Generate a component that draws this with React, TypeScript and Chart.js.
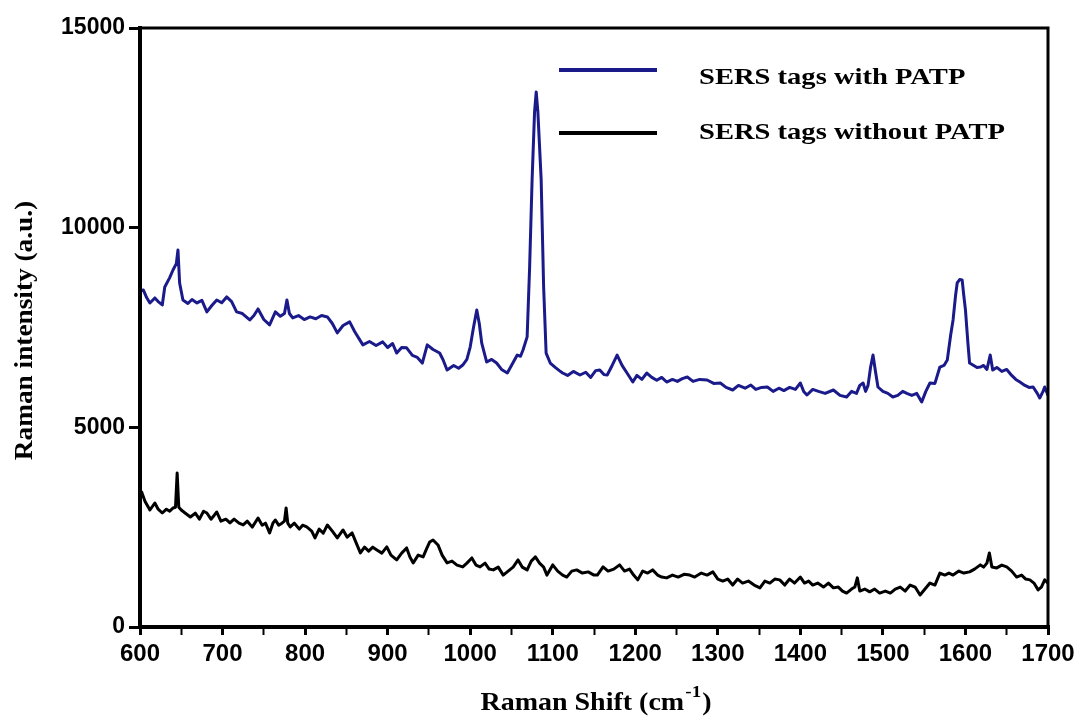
import React, { useEffect, useRef } from 'react';
import { Chart, registerables } from 'chart.js';

Chart.register(...registerables);

// Raman shift (cm-1), intensity (a.u.)
const withPATP: [number, number][] = [
  [600, 8400], [604, 8440], [608, 8250], [612, 8115], [618, 8240], [622, 8150], [627, 8065], [630, 8515],
  [636, 8750], [640, 8940], [644, 9100], [646, 9440], [648, 8615], [652, 8190], [658, 8100], [663, 8200],
  [669, 8115], [675, 8180], [681, 7890], [687, 8050], [693, 8190], [699, 8120], [705, 8265], [711, 8150],
  [717, 7890], [724, 7850], [733, 7690], [738, 7800], [743, 7965], [750, 7700], [757, 7565], [764, 7890],
  [770, 7780], [775, 7850], [778, 8190], [781, 7850], [785, 7740], [792, 7800], [799, 7700], [806, 7765],
  [813, 7720], [820, 7800], [827, 7765], [833, 7600], [839, 7365], [846, 7550], [854, 7640], [860, 7400],
  [870, 7065], [878, 7150], [886, 7050], [894, 7140], [900, 7000], [906, 7100], [911, 6860], [917, 7000],
  [923, 6990], [930, 6800], [936, 6750], [942, 6610], [948, 7065], [955, 6950], [963, 6860], [967, 6700],
  [972, 6435], [980, 6550], [986, 6480], [991, 6560], [996, 6700], [1000, 7010], [1004, 7500], [1008, 7940],
  [1011, 7600], [1014, 7110], [1020, 6635], [1026, 6700], [1032, 6610], [1038, 6450], [1045, 6360], [1050, 6550],
  [1057, 6810], [1061, 6780], [1064, 6935], [1069, 7265], [1072, 9000], [1075, 11195], [1078, 12900], [1080, 13400],
  [1082, 12900], [1086, 11195], [1089, 8500], [1092, 6860], [1097, 6610], [1103, 6500], [1108, 6420], [1112, 6360],
  [1118, 6300], [1125, 6400], [1133, 6310], [1140, 6380], [1146, 6250], [1152, 6420], [1157, 6435], [1162, 6320],
  [1166, 6310], [1172, 6550], [1178, 6810], [1184, 6550], [1190, 6360], [1197, 6135], [1202, 6300], [1208, 6200],
  [1214, 6360], [1220, 6250], [1226, 6180], [1232, 6250], [1238, 6135], [1245, 6200], [1251, 6150], [1257, 6220],
  [1263, 6260], [1270, 6150], [1278, 6200], [1287, 6185], [1295, 6100], [1303, 6110], [1310, 6000], [1318, 5935],
  [1325, 6050], [1333, 5980], [1340, 6060], [1346, 5950], [1353, 6000], [1360, 6010], [1367, 5900], [1374, 5980],
  [1380, 5920], [1387, 6000], [1394, 5950], [1400, 6110], [1404, 5900], [1408, 5810], [1415, 5950], [1422, 5900],
  [1430, 5850], [1440, 5935], [1448, 5800], [1456, 5760], [1462, 5900], [1468, 5850], [1472, 6050], [1476, 6110],
  [1479, 5900], [1482, 6050], [1485, 6500], [1488, 6810], [1491, 6400], [1494, 6010], [1500, 5900], [1506, 5850],
  [1512, 5760], [1518, 5800], [1524, 5900], [1529, 5850], [1535, 5800], [1541, 5850], [1547, 5635], [1552, 5900],
  [1557, 6110], [1563, 6100], [1569, 6510], [1574, 6550], [1578, 6685], [1582, 7300], [1585, 7690], [1588, 8300],
  [1590, 8615], [1593, 8700], [1596, 8690], [1598, 8300], [1600, 7940], [1603, 7100], [1605, 6610], [1610, 6550],
  [1614, 6500], [1618, 6510], [1622, 6550], [1626, 6450], [1630, 6810], [1633, 6435], [1638, 6500], [1644, 6400],
  [1650, 6450], [1656, 6300], [1661, 6200], [1666, 6135], [1672, 6050], [1677, 6000], [1682, 6010], [1687, 5850],
  [1690, 5735], [1694, 5900], [1696, 6010], [1700, 5800],
];

const withoutPATP: [number, number][] = [
  [600, 3300], [602, 3380], [606, 3150], [612, 2930], [618, 3105], [622, 2950], [627, 2855], [632, 2950],
  [636, 2900], [640, 2980], [643, 3000], [645, 3855], [647, 3000], [650, 2930], [655, 2850], [661, 2755],
  [667, 2850], [672, 2700], [677, 2900], [681, 2855], [686, 2700], [690, 2800], [693, 2880], [698, 2650],
  [704, 2700], [709, 2605], [714, 2700], [720, 2600], [725, 2555], [730, 2650], [736, 2500], [743, 2730],
  [748, 2550], [752, 2600], [757, 2355], [761, 2600], [764, 2680], [768, 2550], [772, 2600], [775, 2650],
  [777, 2980], [779, 2600], [782, 2505], [787, 2600], [793, 2450], [797, 2550], [802, 2505], [808, 2400],
  [812, 2230], [817, 2450], [822, 2350], [827, 2555], [833, 2400], [839, 2230], [846, 2430], [851, 2250],
  [857, 2355], [862, 2100], [867, 1855], [872, 2000], [877, 1900], [882, 2000], [887, 1930], [893, 1850],
  [899, 2005], [904, 1800], [911, 1680], [917, 1850], [923, 1980], [927, 1750], [931, 1605], [937, 1800],
  [943, 1755], [947, 1950], [951, 2130], [955, 2180], [961, 2055], [966, 1800], [972, 1605], [978, 1650],
  [984, 1550], [991, 1505], [996, 1600], [1002, 1730], [1007, 1550], [1012, 1505], [1018, 1600], [1023, 1450],
  [1028, 1430], [1034, 1500], [1040, 1300], [1046, 1400], [1052, 1500], [1058, 1680], [1063, 1500], [1069, 1430],
  [1074, 1650], [1079, 1755], [1084, 1600], [1089, 1500], [1093, 1300], [1100, 1555], [1106, 1400], [1112, 1300],
  [1117, 1250], [1123, 1400], [1129, 1430], [1136, 1350], [1143, 1380], [1150, 1300], [1154, 1300], [1161, 1505],
  [1167, 1400], [1174, 1450], [1181, 1555], [1187, 1400], [1193, 1450], [1198, 1300], [1203, 1180], [1209, 1400],
  [1215, 1350], [1221, 1430], [1227, 1300], [1232, 1250], [1238, 1230], [1245, 1300], [1252, 1250], [1259, 1320],
  [1266, 1300], [1272, 1250], [1280, 1350], [1287, 1300], [1294, 1380], [1300, 1200], [1306, 1150], [1312, 1200],
  [1318, 1050], [1324, 1200], [1330, 1100], [1337, 1150], [1344, 1050], [1351, 980], [1357, 1150], [1363, 1100],
  [1369, 1200], [1375, 1180], [1381, 1050], [1387, 1200], [1393, 1100], [1400, 1250], [1405, 1100], [1410, 1150],
  [1415, 1050], [1421, 1100], [1428, 1000], [1434, 1100], [1440, 980], [1446, 1000], [1451, 900], [1456, 850],
  [1462, 950], [1466, 1000], [1469, 1230], [1472, 900], [1478, 950], [1484, 880], [1490, 950], [1496, 850],
  [1503, 900], [1509, 850], [1515, 950], [1521, 1000], [1527, 900], [1533, 1050], [1539, 1000], [1545, 800],
  [1551, 950], [1557, 1100], [1563, 1050], [1569, 1350], [1575, 1300], [1580, 1350], [1585, 1300], [1592, 1400],
  [1598, 1350], [1605, 1380], [1611, 1450], [1618, 1555], [1622, 1500], [1626, 1600], [1629, 1855], [1632, 1500],
  [1638, 1480], [1644, 1550], [1650, 1505], [1656, 1400], [1662, 1250], [1668, 1300], [1673, 1200], [1678, 1180],
  [1683, 1100], [1688, 930], [1692, 1000], [1696, 1180], [1700, 1100],
];

const seriesLabels = ['SERS tags with PATP', 'SERS tags without PATP'];
const seriesColors = ['#1a1a8a', '#000000'];
const xRange = [600, 1700];
const yRange = [0, 15000];
const yTitle = 'Raman intensity (a.u.)';
const xTitleMain = 'Raman Shift (cm';
const xTitleSup = '-1';
const xTitleEnd = ')';

const SERIF = '"Liberation Serif", "Times New Roman", serif';

function stretchedText(ctx: CanvasRenderingContext2D, text: string, x: number, y: number, sx: number) {
  ctx.save();
  ctx.translate(x, y);
  ctx.scale(sx, 1);
  ctx.fillText(text, 0, 0);
  ctx.restore();
}

const decorPlugin = {
  id: 'decor',
  afterDatasetsDraw(chart: any) {
    const ctx: CanvasRenderingContext2D = chart.ctx;
    const a = chart.chartArea;
    ctx.save();
    ctx.strokeStyle = '#000';
    ctx.lineCap = 'square';
    // top & right frame
    ctx.lineWidth = 3;
    ctx.beginPath();
    ctx.moveTo(a.left, a.top);
    ctx.lineTo(a.right, a.top);
    ctx.lineTo(a.right, a.bottom);
    ctx.stroke();
    // left & bottom axes
    ctx.lineWidth = 4;
    ctx.beginPath();
    ctx.moveTo(a.left, a.top);
    ctx.lineTo(a.left, a.bottom);
    ctx.lineTo(a.right, a.bottom);
    ctx.stroke();

    // legend
    ctx.lineCap = 'butt';
    const legendY = [70, 133];
    const textY = [84, 139];
    ctx.font = `bold 24px ${SERIF}`;
    ctx.textAlign = 'left';
    ctx.textBaseline = 'alphabetic';
    for (let i = 0; i < 2; i++) {
      ctx.strokeStyle = seriesColors[i];
      ctx.lineWidth = 4;
      ctx.beginPath();
      ctx.moveTo(559, legendY[i]);
      ctx.lineTo(657, legendY[i]);
      ctx.stroke();
      ctx.fillStyle = '#000';
      stretchedText(ctx, seriesLabels[i], 699, textY[i], 1.19);
    }

    // y title
    ctx.save();
    ctx.font = `bold 26px ${SERIF}`;
    ctx.fillStyle = '#000';
    ctx.translate(32, (a.top + a.bottom) / 2 + 3);
    ctx.rotate(-Math.PI / 2);
    ctx.scale(1.05, 1);
    ctx.textAlign = 'center';
    ctx.fillText(yTitle, 0, 0);
    ctx.restore();

    // x title with superscript
    ctx.save();
    ctx.fillStyle = '#000';
    ctx.textAlign = 'left';
    const mainFont = `bold 25px ${SERIF}`;
    const supFont = `bold 17px ${SERIF}`;
    ctx.font = mainFont;
    const w1 = ctx.measureText(xTitleMain).width;
    const w3 = ctx.measureText(xTitleEnd).width;
    ctx.font = supFont;
    const w2 = ctx.measureText(xTitleSup).width;
    const sx = 1.12;
    const total = (w1 + w2 + w3 + 2) * sx;
    const cx = (a.left + a.right) / 2 + 2;
    ctx.translate(cx - total / 2, 710);
    ctx.scale(sx, 1);
    ctx.font = mainFont;
    ctx.fillText(xTitleMain, 0, 0);
    ctx.font = supFont;
    ctx.fillText(xTitleSup, w1 + 1, -13);
    ctx.font = mainFont;
    ctx.fillText(xTitleEnd, w1 + w2 + 2, 0);
    ctx.restore();

    ctx.restore();
  },
};

export default function App() {
  const canvasRef = useRef<HTMLCanvasElement | null>(null);

  useEffect(() => {
    if (!canvasRef.current) return;
    const chart = new Chart(canvasRef.current, {
      type: 'line',
      data: {
        datasets: [
          {
            label: seriesLabels[0],
            data: withPATP.map(([x, y]) => ({ x, y })),
            borderColor: seriesColors[0],
            borderWidth: 3,
            pointRadius: 0,
            tension: 0,
            borderJoinStyle: 'round',
          },
          {
            label: seriesLabels[1],
            data: withoutPATP.map(([x, y]) => ({ x, y })),
            borderColor: seriesColors[1],
            borderWidth: 3,
            pointRadius: 0,
            tension: 0,
            borderJoinStyle: 'round',
          },
        ],
      },
      options: {
        responsive: false,
        animation: false,
        parsing: false as any,
        layout: { padding: { left: 0, right: 34, top: 28, bottom: 0 } },
        plugins: { legend: { display: false }, tooltip: { enabled: false }, title: { display: false } },
        scales: {
          x: {
            type: 'linear',
            min: xRange[0],
            max: xRange[1],
            border: { display: false },
            grid: {
              display: true,
              drawOnChartArea: false,
              drawTicks: true,
              tickLength: 8,
              tickWidth: (c: any) => (c.tick && c.tick.value % 100 === 0 ? 3 : 2),
              tickColor: '#000',
            },
            ticks: {
              stepSize: 50,
              autoSkip: false,
              maxRotation: 0,
              padding: 5,
              color: '#000',
              font: { family: '"Liberation Sans", Arial, sans-serif', size: 24, weight: 'bold' },
              callback: (v: any) => (Number(v) % 100 === 0 ? String(v) : ''),
            },
            afterFit: (s: any) => {
              s.height = 93;
            },
          },
          y: {
            type: 'linear',
            min: yRange[0],
            max: yRange[1],
            border: { display: false },
            grid: {
              display: true,
              drawOnChartArea: false,
              drawTicks: true,
              tickLength: 11,
              tickWidth: 3,
              tickColor: '#000',
            },
            ticks: {
              stepSize: 5000,
              padding: 4,
              color: '#000',
              font: { family: '"Liberation Sans", Arial, sans-serif', size: 23, weight: 'bold' },
              callback: (v: any) => String(v),
            },
            afterFit: (s: any) => {
              s.width = 140;
            },
          },
        },
      },
      plugins: [decorPlugin],
    } as any);
    return () => chart.destroy();
  }, []);

  return (
    <div style={{ position: 'fixed', left: 0, top: 0, width: 1082, height: 720, background: '#fff' }}>
      <canvas ref={canvasRef} width={1082} height={720} style={{ display: 'block' }} />
    </div>
  );
}
